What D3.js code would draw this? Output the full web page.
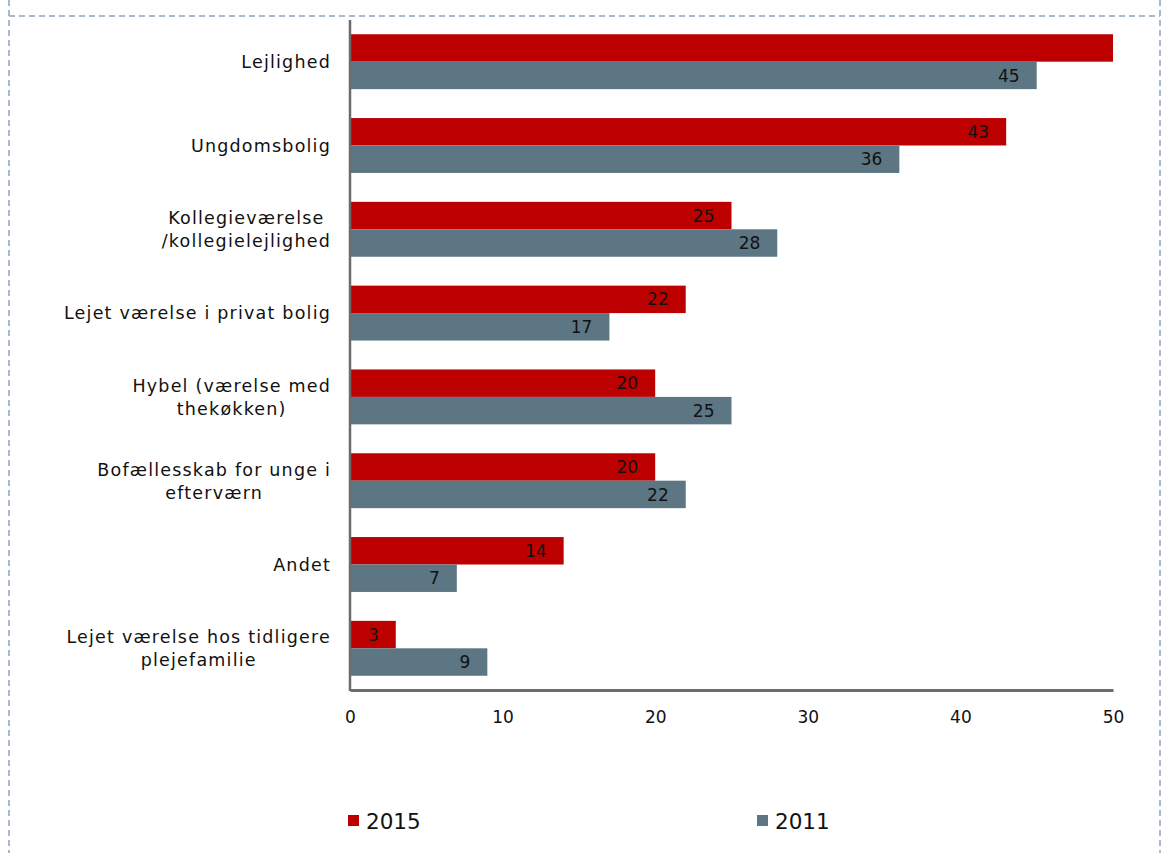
<!DOCTYPE html>
<html>
<head>
<meta charset="utf-8">
<script src="https://cdn.jsdelivr.net/npm/d3@7"></script>
<style>
  body { margin: 0; background: #fff; }
  svg text { font-family: "DejaVu Sans", sans-serif; fill: #111; }
</style>
</head>
<body>
<div id="chart"></div>
<script>
var categories = [
    'Lejlighed',
    'Ungdomsbolig',
    'Kollegieværelse\n/kollegielejlighed',
    'Lejet værelse i privat bolig',
    'Hybel (værelse med\nthekøkken)',
    'Bofællesskab for unge i\nefterværn',
    'Andet',
    'Lejet værelse hos tidligere\nplejefamilie'
];
var values2015 = [50, 43, 25, 22, 20, 20, 14, 3];
var values2011 = [45, 36, 28, 17, 25, 22, 7, 9];
var seriesNames = ['2015', '2011'];
var xTicks = [0, 10, 20, 30, 40, 50];

var colors = {'2015': '#BC0000', '2011': '#5C7684'};
var W = 1167, H = 853;
var plot = {left: 350, right: 1113, top: 20, bottom: 690};

var svg = d3.select('#chart').append('svg')
    .attr('width', W)
    .attr('height', H);

// dashed frame
var frame = svg.append('g')
    .attr('fill', 'none')
    .attr('stroke', '#a9b9cb')
    .attr('stroke-width', 2)
    .attr('stroke-dasharray', '6,4');
frame.append('line').attr('x1', 9).attr('x2', 9).attr('y1', 0).attr('y2', H);
frame.append('line').attr('x1', 1160).attr('x2', 1160).attr('y1', 0).attr('y2', H);
frame.append('line').attr('x1', 9).attr('x2', 1160).attr('y1', 16).attr('y2', 16);

var x = d3.scaleLinear().domain([0, 50]).range([plot.left, plot.right]);
var y = d3.scaleBand().domain(d3.range(categories.length))
    .range([plot.top, plot.bottom])
    .paddingInner(0.345).paddingOuter(0.17);
var ySub = d3.scaleBand().domain(seriesNames).range([0, y.bandwidth()]);

var rows = categories.map(function(c, i) {
    return {cat: c, i: i, vals: [
        {key: '2015', v: values2015[i]},
        {key: '2011', v: values2011[i]}
    ]};
});

var groups = svg.selectAll('g.row').data(rows).enter().append('g')
    .attr('class', 'row')
    .attr('transform', function(d) { return 'translate(0,' + y(d.i) + ')'; });

groups.selectAll('rect').data(function(d) { return d.vals; }).enter().append('rect')
    .attr('x', x(0))
    .attr('y', function(d) { return ySub(d.key); })
    .attr('width', function(d) { return x(d.v) - x(0); })
    .attr('height', ySub.bandwidth())
    .attr('fill', function(d) { return colors[d.key]; });

// value labels, not shown when bar reaches the axis end
groups.selectAll('text.val').data(function(d) { return d.vals; }).enter()
    .filter(function(d) { return d.v < x.domain()[1]; })
    .append('text')
    .attr('class', 'val')
    .attr('x', function(d) { return x(d.v) - 17; })
    .attr('y', function(d) { return ySub(d.key) + ySub.bandwidth() / 2; })
    .attr('dy', '0.36em')
    .attr('text-anchor', 'end')
    .style('font-size', '17px')
    .text(function(d) { return d.v; });

// category labels: block right aligned, lines centred in block
var catG = svg.append('g');
rows.forEach(function(d) {
    var lines = d.cat.split('\n');
    var cy = y(d.i) + y.bandwidth() / 2;
    var lh = 23;
    var g = catG.append('g');
    var t = g.selectAll('text').data(lines).enter().append('text')
        .style('font-size', '17.5px')
        .style('letter-spacing', '1.2px')
        .attr('text-anchor', 'middle')
        .attr('y', function(l, k) { return cy + (k - (lines.length - 1) / 2) * lh; })
        .attr('dy', '0.36em')
        .text(function(l) { return l; });
    var maxW = d3.max(t.nodes(), function(n) { return n.getComputedTextLength(); });
    t.attr('x', 331 - maxW / 2);
});

// axes
var xAxis = svg.append('g')
    .attr('transform', 'translate(0,' + plot.bottom + ')')
    .call(d3.axisBottom(x).tickValues(xTicks).tickSize(0).tickPadding(21));
xAxis.select('.domain').attr('stroke', '#6b6b6b').attr('stroke-width', 3);
xAxis.selectAll('text').style('font-size', '17px').attr('fill', '#111')
    .style('font-family', '"DejaVu Sans", sans-serif');

svg.append('line')
    .attr('x1', plot.left).attr('x2', plot.left)
    .attr('y1', plot.top).attr('y2', plot.bottom + 1)
    .attr('stroke', '#6b6b6b').attr('stroke-width', 2.5);

// legend
var legendPos = [348, 757];
var legend = svg.selectAll('g.legendItem').data(seriesNames).enter().append('g')
    .attr('class', 'legendItem')
    .attr('transform', function(d, i) { return 'translate(' + legendPos[i] + ',815)'; });
legend.append('rect')
    .attr('width', 11).attr('height', 11)
    .attr('fill', function(d) { return colors[d]; });
legend.append('text')
    .attr('x', 18).attr('y', 6).attr('dy', '0.36em')
    .style('font-size', '21.5px')
    .text(function(d) { return d; });
</script>
</body>
</html>
